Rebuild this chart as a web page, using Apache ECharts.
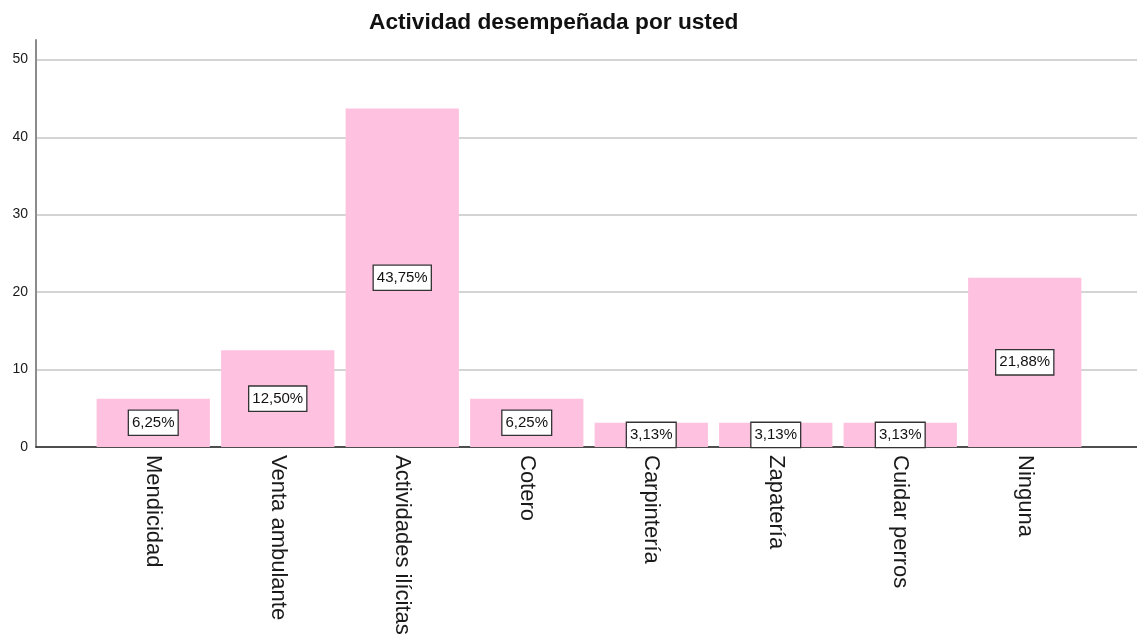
<!DOCTYPE html>
<html>
<head>
<meta charset="utf-8">
<script src="https://cdn.jsdelivr.net/npm/echarts@6/dist/echarts.min.js"></script>
<style>
  html, body { margin: 0; padding: 0; background: #fff; }
  #chart { width: 1137px; height: 640px; }
</style>
</head>
<body>
<div id="chart"></div>
<script>
// categorias y porcentajes
var categories = ['Mendicidad', 'Venta ambulante', 'Actividades ilícitas', 'Cotero',
                  'Carpintería', 'Zapatería', 'Cuidar perros', 'Ninguna'];
var percents = [6.25, 12.5, 43.75, 6.25, 3.125, 3.125, 3.125, 21.875];
var yTicks = { min: 0, max: 50, interval: 10, axisTop: 52.5 };

var pink = '#fec1e0';
var font = 'Liberation Sans, Arial, sans-serif';

var chart = echarts.init(document.getElementById('chart'));

chart.setOption({
    animation: false,
    title: {
        text: 'Actividad desempeñada por usted',
        left: 364, top: 6,
        textStyle: { fontFamily: font, fontSize: 22.7, fontWeight: 'bold', color: '#111' }
    },
    grid: [
        // eje y visible + linea base
        { left: 36, right: 0, top: 40, bottom: 193 },
        // lineas de cuadricula
        { left: 36, right: 0, top: 60, bottom: 193 },
        // barras
        { left: 91, right: 50, top: 60, bottom: 193 }
    ],
    xAxis: [
        { gridIndex: 0, type: 'value', min: 0, max: 1,
          axisLine: { show: true, lineStyle: { color: '#222', width: 1.5 } },
          axisTick: { show: false }, axisLabel: { show: false }, splitLine: { show: false } },
        { gridIndex: 1, type: 'value', show: false },
        { gridIndex: 2, type: 'category', data: categories,
          axisLine: { show: false }, axisTick: { show: false },
          axisLabel: { rotate: -90, margin: 8, fontFamily: font, fontSize: 22, color: '#1a1a1a' } }
    ],
    yAxis: [
        { gridIndex: 0, type: 'value', min: yTicks.min, max: yTicks.axisTop, interval: yTicks.interval,
          axisLine: { show: true, lineStyle: { color: '#8c8c8c', width: 2 } },
          axisTick: { show: false },
          axisLabel: { showMaxLabel: false, margin: 8, fontFamily: font, fontSize: 14, color: '#1a1a1a' },
          splitLine: { show: false } },
        { gridIndex: 1, type: 'value', min: yTicks.min, max: yTicks.max, interval: yTicks.interval,
          axisLine: { show: false }, axisTick: { show: false }, axisLabel: { show: false },
          splitLine: { show: true, lineStyle: { color: '#c6c6c6', width: 1.5 } } },
        { gridIndex: 2, type: 'value', min: yTicks.min, max: yTicks.max, show: false }
    ],
    series: [{
        type: 'bar',
        xAxisIndex: 2, yAxisIndex: 2,
        data: percents,
        barCategoryGap: '9%',
        itemStyle: { color: pink },
        z: 3,
        label: {
            show: true,
            position: 'inside',
            formatter: function (p) { return p.value.toFixed(2).replace('.', ',') + '%'; },
            fontFamily: font, fontSize: 15, color: '#111',
            backgroundColor: '#fff', borderColor: '#333', borderWidth: 1.3,
            padding: [5, 3, 4, 3]
        }
    }]
});
</script>
</body>
</html>
